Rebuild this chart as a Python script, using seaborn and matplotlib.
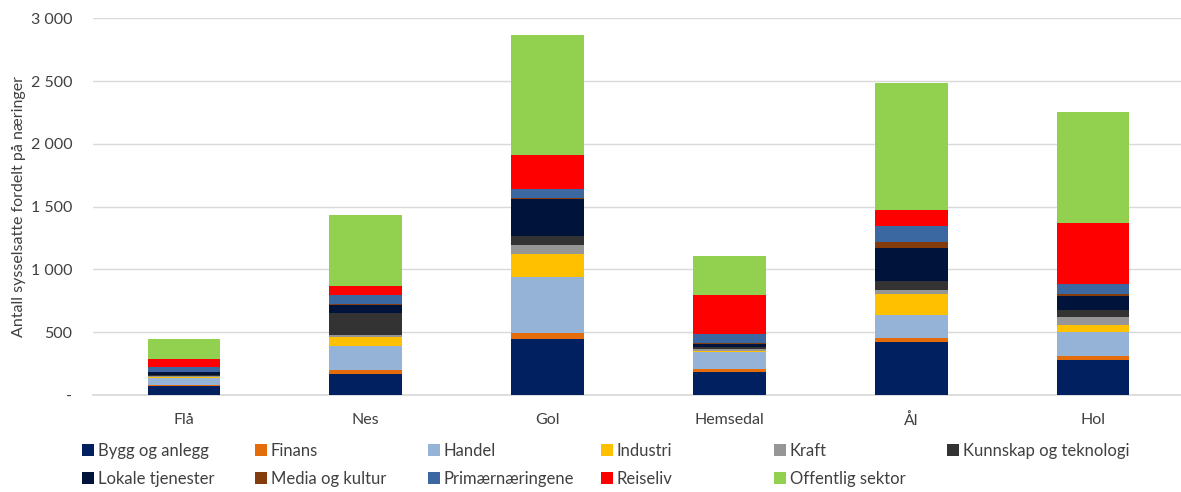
import matplotlib
matplotlib.use("Agg")
import matplotlib.pyplot as plt
from matplotlib.patches import Patch
from matplotlib.ticker import FuncFormatter
import seaborn as sns
import pandas as pd
import numpy as np

kommuner = ["Flå", "Nes", "Gol", "Hemsedal", "Ål", "Hol"]

bygg_og_anlegg = [74, 164, 443, 186, 422, 276]
finans = [8, 32, 53, 19, 29, 37]
handel = [53, 191, 446, 138, 186, 191]
industri = [10, 72, 180, 11, 170, 50]
kraft = [5, 21, 72, 13, 32, 66]
kunnskap_og_teknologi = [10, 170, 74, 13, 66, 56]
lokale_tjenester = [20, 66, 292, 29, 265, 114]
media_og_kultur = [2, 5, 5, 5, 45, 13]
primaernaeringene = [40, 74, 74, 69, 127, 80]
reiseliv = [61, 74, 271, 310, 133, 483]
offentlig_sektor = [159, 563, 955, 313, 1011, 889]

series_names = ["Bygg og anlegg", "Finans", "Handel", "Industri", "Kraft",
                "Kunnskap og teknologi", "Lokale tjenester", "Media og kultur",
                "Primærnæringene", "Reiseliv", "Offentlig sektor"]
series_values = [bygg_og_anlegg, finans, handel, industri, kraft,
                 kunnskap_og_teknologi, lokale_tjenester, media_og_kultur,
                 primaernaeringene, reiseliv, offentlig_sektor]
colors = ["#002060", "#E46C0A", "#95B3D7", "#FFC000", "#969696",
          "#333333", "#00133A", "#843C0C", "#3B68A0", "#FF0000", "#92D050"]

sns.set_theme(style="white")
plt.rcParams["font.family"] = ["Lato", "DejaVu Sans"]
text_color = "#404040"

fig = plt.figure(figsize=(11.81, 4.92), dpi=100)
ax = fig.add_axes([93 / 1181, 97 / 492, 1091 / 1181, (395 - 18.3) / 492])

cum = np.cumsum(np.array(series_values), axis=0)
for i in reversed(range(len(series_names))):
    df = pd.DataFrame({"kommune": kommuner, "verdi": cum[i]})
    sns.barplot(data=df, x="kommune", y="verdi", order=kommuner, color=colors[i],
                width=0.4, errorbar=None, saturation=1, ax=ax, zorder=3,
                linewidth=0)

ax.set_ylim(0, 3000)
ax.set_yticks(np.arange(0, 3001, 500))
ax.yaxis.set_major_formatter(FuncFormatter(
    lambda v, p: "-" if v == 0 else f"{int(v):,}".replace(",", " ")))
ax.grid(axis="y", color="#D9D9D9", linewidth=1, zorder=0)
ax.grid(axis="x", visible=False)
for s in ["top", "right", "left"]:
    ax.spines[s].set_visible(False)
ax.spines["bottom"].set_color("#D9D9D9")
ax.tick_params(axis="both", length=0, labelsize=11.5, colors=text_color)
ax.tick_params(axis="y", pad=15)
ax.tick_params(axis="x", pad=13)
ax.set_xlabel("")
ax.set_ylabel("Antall sysselsatte fordelt på næringer", fontsize=11.5,
              color=text_color, labelpad=3)

# legend: 6 fixed-width columns, two rows (row-major order like the original)
handles = [Patch(facecolor=c, edgecolor="none") for c in colors]
ncols = 6
for k in range(ncols):
    idx = [j for j in (k, k + ncols) if j < len(series_names)]
    leg = fig.legend([handles[j] for j in idx], [series_names[j] for j in idx],
                     loc="upper left",
                     bbox_to_anchor=((82 + 173 * k) / 1181, 1 - 443 / 492),
                     frameon=False, fontsize=12, handlelength=0.7, handleheight=0.7,
                     handletextpad=0.25, labelspacing=0.72,
                     borderaxespad=0, borderpad=0)
    for t in leg.get_texts():
        t.set_color(text_color)

fig.savefig("out.png", dpi=100)
